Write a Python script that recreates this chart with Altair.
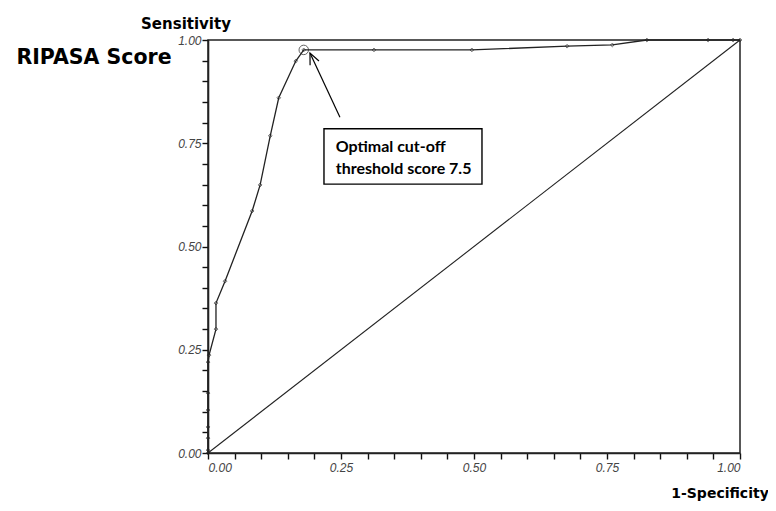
import altair as alt
import pandas as pd

# ROC curve points (1-Specificity, Sensitivity)
fpr = [0.0, 0.0, 0.0, 0.0, 0.0, 0.0, 0.0, 0.002, 0.015, 0.015, 0.032, 0.083, 0.098,
       0.117, 0.133, 0.165, 0.18, 0.312, 0.496, 0.675, 0.76, 0.825, 0.94, 0.987, 1.0]
tpr = [0.0, 0.007, 0.036, 0.063, 0.104, 0.145, 0.22, 0.237, 0.30, 0.363, 0.416, 0.586, 0.649,
       0.768, 0.86, 0.949, 0.976, 0.976, 0.976, 0.985, 0.988, 1.0, 1.0, 1.0, 1.0]

optimal_x = [0.18]
optimal_y = [0.976]

diag_x = [0.0, 1.0]
diag_y = [0.0, 1.0]

ticks = [round(i * 0.05, 2) for i in range(21)]

# annotation (data units)
box_x = [0.218, 0.515]
box_y = [0.651, 0.785]
note_lines = ["Optimal cut-off", "threshold score 7.5"]
note_y = [0.741, 0.688]
note_x = 0.240
arrow_x = [0.248, 0.1917]
arrow_y = [0.813, 0.9685]
head_x = [0.1919, 0.1917, 0.2086]
head_y = [0.939, 0.9685, 0.949]

roc = pd.DataFrame({"x": fpr, "y": tpr, "i": range(len(fpr))})
diag = pd.DataFrame({"x": diag_x, "y": diag_y})
opt = pd.DataFrame({"x": optimal_x, "y": optimal_y})

xs = alt.Scale(domain=[0, 1], nice=False, zero=False)
ys = alt.Scale(domain=[0, 1], nice=False, zero=False)

label_expr = "(round(datum.value*100) % 25 == 0) ? format(datum.value, '.2f') : ''"
x_axis = alt.Axis(values=ticks, labelExpr=label_expr, labelPadding=3, title=None)
y_axis = alt.Axis(values=ticks, labelExpr=label_expr, labelPadding=1, title=None)

X = alt.X("x:Q", scale=xs, axis=x_axis)
Y = alt.Y("y:Q", scale=ys, axis=y_axis)

line = alt.Chart(roc).mark_line(color="#222", strokeWidth=1.3).encode(
    x=X, y=Y, order="i:Q"
)
pts = alt.Chart(roc).mark_point(shape="diamond", size=14, color="#222", strokeWidth=0.9).encode(
    x=X, y=Y
)
diag_line = alt.Chart(diag).mark_line(color="#222", strokeWidth=1.1).encode(x=X, y=Y)
circ = alt.Chart(opt).mark_point(shape="circle", size=90, color="#222", strokeWidth=1).encode(
    x=X, y=Y
)

box = alt.Chart(pd.DataFrame({"x": [box_x[0]], "x2": [box_x[1]], "y": [box_y[0]], "y2": [box_y[1]]})).mark_rect(
    fill="white", stroke="black", strokeWidth=1.4
).encode(x=X, x2="x2:Q", y=Y, y2="y2:Q")

note = alt.Chart(pd.DataFrame({"t": note_lines, "y": note_y, "x": [note_x] * 2})).mark_text(
    align="left", baseline="middle", font="Lato", fontWeight="bold", fontSize=16, color="black"
).encode(x=X, y=Y, text="t:N")

arrow = alt.Chart(pd.DataFrame({"x": arrow_x, "y": arrow_y, "i": [0, 1]})).mark_line(
    color="black", strokeWidth=1.2
).encode(x=X, y=Y, order="i:Q")
head = alt.Chart(pd.DataFrame({"x": head_x, "y": head_y, "i": [0, 1, 2]})).mark_line(
    color="black", strokeWidth=1.2
).encode(x=X, y=Y, order="i:Q")

lbl = pd.DataFrame({"a": [0]})
t_sens = alt.Chart(lbl).mark_text(
    text="Sensitivity", font="DejaVu Sans", fontWeight="bold", fontSize=15, color="black"
).encode(x=alt.value(-22), y=alt.value(-16))
t_ripasa = alt.Chart(lbl).mark_text(
    text="RIPASA Score", font="DejaVu Sans", fontWeight="bold", fontSize=20.5, color="black"
).encode(x=alt.value(-114), y=alt.value(18))
t_spec = alt.Chart(lbl).mark_text(
    text="1-Specificity", font="DejaVu Sans", fontWeight="bold", fontSize=14, color="black"
).encode(x=alt.value(512), y=alt.value(454))

chart = alt.layer(
    diag_line, line, pts, circ, arrow, head, box, note, t_sens, t_ripasa, t_spec
).properties(
    width=532, height=413,
    autosize=alt.AutoSizeParams(type="none"),
    padding={"left": 200, "top": 32, "right": 28, "bottom": 50},
    background="white",
).configure_view(
    stroke="#222", strokeWidth=1.5
).configure_axis(
    labelOverlap=False,
    labelBound=False,
    grid=False,
    tickSize=6,
    tickColor="#111",
    domainColor="#222",
    domainWidth=1.6,
    tickWidth=1.4,
    labelFont="Liberation Sans",
    labelFontSize=12,
    labelFontStyle="italic",
    labelColor="#444",
)

chart.save("out.html", embed_options={"renderer": "svg", "actions": False})
